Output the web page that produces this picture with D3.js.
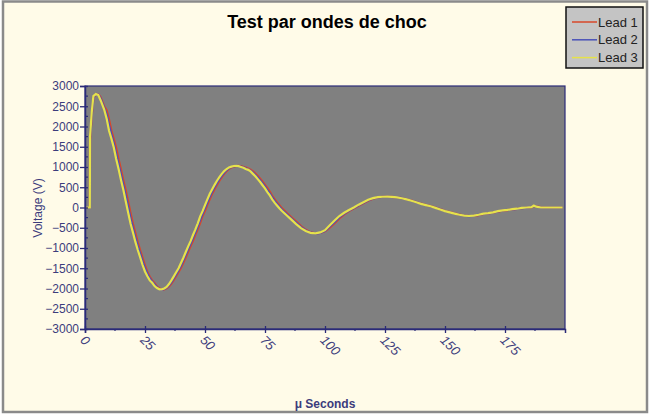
<!DOCTYPE html>
<html><head><meta charset="utf-8">
<script src="https://cdn.jsdelivr.net/npm/d3@7"></script>
<style>body{margin:0;background:#fff;}svg{display:block;}</style>
</head><body>
<script>
// ---- data ----
const title = "Test par ondes de choc";
const seriesNames = ["Lead 1", "Lead 2", "Lead 3"];
const xTicks = [0, 25, 50, 75, 100, 125, 150, 175];
const yTicks = [3000, 2500, 2000, 1500, 1000, 500, 0, -500, -1000, -1500, -2000, -2500, -3000];
const time = [0,1,2,2.1,2.8,3.5,4.5,5.5,6.5,8,9,10,11,12,13,14,15,16,17,18,19,20,21,22,23,24,25,26,27,28,29,30,31,32,33,34,35,36,37,38,39,40,41,42,43,44,45,46,47,48,49,50,51,52,53,54,55,56,57,58,59,60,61,62,63,64,65,66,67,68,69,70,71,72,73,74,75,76,77,78,79,80,81,82,84,86,88,90,92,94,96,98,100,102,104,106,108,110,112,114,116,118,120,122,124,126,128,130,132,134,136,138,140,142,144,146,148,150,152,154,156,158,160,162,164,166,168,170,172,174,176,178,180,182,184,186,187,188,190,192,194,196,199];
const lead3 = [0,0,0,1750,2350,2750,2800,2780,2650,2420,2200,1900,1700,1480,1200,950,680,430,150,-130,-400,-620,-850,-1050,-1230,-1420,-1580,-1700,-1800,-1860,-1940,-1990,-2020,-2020,-2000,-1960,-1890,-1800,-1700,-1600,-1500,-1370,-1240,-1100,-960,-830,-680,-540,-390,-220,-90,60,200,340,450,560,660,750,830,900,950,990,1010,1025,1030,1020,1000,980,950,930,890,830,770,700,630,550,470,380,300,200,120,50,-20,-80,-190,-300,-410,-510,-580,-625,-640,-615,-560,-440,-320,-210,-130,-60,0,70,130,190,230,255,265,268,262,248,228,200,165,128,90,60,30,-10,-50,-90,-120,-150,-180,-200,-210,-200,-180,-150,-140,-120,-90,-70,-60,-40,-30,-10,0,10,50,20,0,0,0,0,0,0];
const lead1 = [0,0,0,1650,2250,2700,2800,2800,2720,2500,2400,2180,1900,1690,1470,1190,940,670,420,140,-140,-410,-630,-860,-1060,-1240,-1430,-1590,-1710,-1800,-1870,-1950,-1995,-2025,-2020,-1995,-1950,-1880,-1790,-1690,-1590,-1490,-1360,-1230,-1090,-950,-820,-670,-530,-380,-210,-80,70,210,340,450,560,660,750,830,900,950,990,1010,1025,1030,1020,1005,985,960,935,895,840,780,710,640,560,480,390,290,205,125,55,-15,-130,-240,-350,-460,-550,-610,-640,-630,-585,-500,-390,-270,-170,-90,-25,40,105,165,215,250,265,270,264,250,232,205,172,135,98,65,35,0,-40,-80,-112,-145,-175,-198,-210,-206,-188,-160,-145,-128,-100,-78,-63,-48,-33,-18,-3,5,40,30,10,0,0,0,0,0];
const lead2 = [0,0,0,1700,2300,2720,2800,2790,2690,2460,2300,2040,1800,1580,1330,1070,810,550,290,10,-270,-510,-740,-950,-1140,-1330,-1500,-1640,-1750,-1830,-1900,-1970,-2020,-2035,-2015,-1980,-1920,-1840,-1745,-1645,-1545,-1430,-1300,-1165,-1025,-890,-750,-605,-460,-300,-150,-10,135,270,395,505,610,705,790,865,925,970,1000,1018,1028,1025,1010,992,968,940,912,862,805,740,670,595,515,430,345,250,162,88,18,-48,-160,-270,-380,-485,-565,-618,-645,-625,-575,-470,-355,-240,-150,-75,-12,55,118,178,222,252,265,269,263,249,230,203,168,132,94,62,32,-5,-45,-85,-116,-148,-178,-200,-212,-203,-184,-155,-143,-124,-95,-74,-62,-44,-32,-14,-2,8,45,25,5,0,0,0,0,0];
const seriesColors = ["#d8482a", "#4a52b8", "#e6e24a"];

// ---- chart ----
const W = 650, H = 415;
const svg = d3.select("body").append("svg").attr("width", W).attr("height", H);
svg.append("rect").attr("x", 0).attr("y", 0).attr("width", W).attr("height", H).attr("fill", "#fff");
svg.append("rect").attr("x", 3).attr("y", 1.5).attr("width", 644).attr("height", 410.5)
  .attr("fill", "#fffbe8").attr("stroke", "#8a8a8a").attr("stroke-width", 2.5);

const pL = 85, pR = 565, pT = 86, pB = 329;
const x = d3.scaleLinear().domain([0, 200]).range([pL, pR]);
const y = d3.scaleLinear().domain([-3000, 3000]).range([pB, pT]);
const axisColor = "#2a2a78", textColor = "#3c3c7c";

svg.append("rect").attr("x", pL).attr("y", pT).attr("width", pR - pL).attr("height", pB - pT)
  .attr("fill", "#808080");

// series
const data = [lead1, lead2, lead3];
const line = d3.line().x((d, i) => x(time[i])).y(d => y(d));
data.forEach((vals, k) => {
  svg.append("path").datum(vals).attr("d", line).attr("fill", "none")
    .attr("stroke", seriesColors[k]).attr("stroke-width", 2.2).attr("stroke-linejoin", "miter");
});

// plot frame
svg.append("rect").attr("x", pL).attr("y", pT).attr("width", pR - pL).attr("height", pB - pT)
  .attr("fill", "none").attr("stroke", axisColor).attr("stroke-width", 1.2);

// y axis
const yAxis = d3.axisLeft(y).tickValues(yTicks).tickSize(5).tickPadding(1).tickFormat(d3.format("d"));
const gy = svg.append("g").attr("transform", `translate(${pL},0)`).call(yAxis);
gy.select(".domain").attr("stroke", axisColor).attr("stroke-width", 1.5);
gy.selectAll(".tick line").attr("stroke", axisColor).attr("stroke-width", 1.3).attr("x2", -5).attr("x1", 3);
gy.selectAll(".tick text").attr("fill", textColor).style("font", "12px 'Liberation Sans', Arial, sans-serif");
const yMinor = d3.range(-2750, 3000, 500);
svg.append("g").selectAll("line").data(yMinor).join("line")
  .attr("x1", pL).attr("x2", pL + 3).attr("y1", d => y(d)).attr("y2", d => y(d))
  .attr("stroke", axisColor).attr("stroke-width", 1.2);

// x axis
const xAxis = d3.axisBottom(x).tickValues(xTicks).tickSize(4).tickFormat(d3.format("d"));
const gx = svg.append("g").attr("transform", `translate(0,${pB})`).call(xAxis);
gx.select(".domain").attr("stroke", axisColor).attr("stroke-width", 1.5);
gx.selectAll(".tick line").attr("stroke", axisColor).attr("stroke-width", 1.3).attr("y1", -3).attr("y2", 4);
gx.selectAll(".tick text").attr("fill", textColor)
  .style("font", "italic 13px 'Liberation Sans', Arial, sans-serif")
  .attr("text-anchor", "start").attr("y", 0).attr("dy", 0)
  .attr("transform", "translate(-6,12) rotate(45)");
const xMinor = d3.range(12.5, 200, 25);
svg.append("g").selectAll("line").data(xMinor).join("line")
  .attr("x1", d => x(d)).attr("x2", d => x(d)).attr("y1", pB).attr("y2", pB + 2)
  .attr("stroke", axisColor).attr("stroke-width", 1.2);

// titles
svg.append("text").attr("x", 327).attr("y", 28).attr("text-anchor", "middle")
  .style("font", "bold 18px 'Liberation Sans', Arial, sans-serif").attr("fill", "#000").text(title);
svg.append("text").attr("transform", "translate(42,208) rotate(-90)").attr("text-anchor", "middle")
  .style("font", "12px 'Liberation Sans', Arial, sans-serif").attr("fill", textColor).text("Voltage (V)");
svg.append("text").attr("x", 325).attr("y", 408).attr("text-anchor", "middle")
  .style("font", "bold 12px 'Liberation Sans', Arial, sans-serif").attr("fill", textColor).text("μ Seconds");

// legend
const lg = svg.append("g");
lg.append("rect").attr("x", 566).attr("y", 7).attr("width", 77).attr("height", 61)
  .attr("fill", "#c4c4c4").attr("stroke", "#111").attr("stroke-width", 1.5);
seriesNames.forEach((n, k) => {
  const yy = 22 + k * 17.8;
  lg.append("line").attr("x1", 572).attr("x2", 597).attr("y1", yy).attr("y2", yy)
    .attr("stroke", seriesColors[k]).attr("stroke-width", 1.5);
  lg.append("text").attr("x", 598).attr("y", yy + 4.5)
    .style("font", "13px 'Liberation Sans', Arial, sans-serif").attr("fill", "#222").text(n);
});
</script>
</body></html>
